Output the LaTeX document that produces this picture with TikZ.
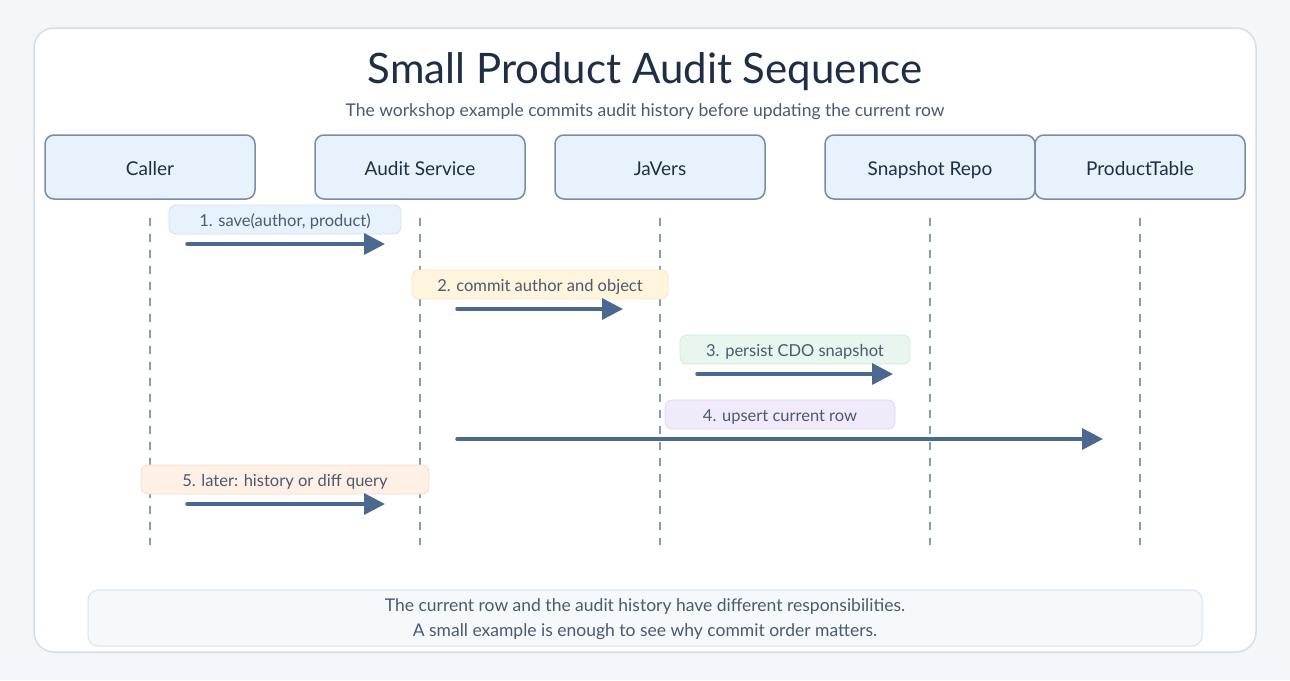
\documentclass[tikz,border=0pt]{standalone}
\usepackage{fontspec}
\setmainfont{Lato}
\usetikzlibrary{arrows.meta}
\definecolor{pagebg}{HTML}{F4F7FA}
\definecolor{cardline}{HTML}{D5DEE8}
\definecolor{titlecol}{HTML}{1E2F45}
\definecolor{subcol}{HTML}{4A5A70}
\definecolor{headfill}{HTML}{E8F2FC}
\definecolor{headline}{HTML}{7A8BA3}
\definecolor{lifecol}{HTML}{8A9BB0}
\definecolor{arrowcol}{HTML}{4A6890}
\definecolor{lblue}{HTML}{E8F2FC}
\definecolor{lbluel}{HTML}{D2E2F2}
\definecolor{lyellow}{HTML}{FFF4DC}
\definecolor{lyellowl}{HTML}{F5E6C6}
\definecolor{lgreen}{HTML}{E8F6EE}
\definecolor{lgreenl}{HTML}{D3EADC}
\definecolor{lpurple}{HTML}{F1EAFB}
\definecolor{lpurplel}{HTML}{E0D6F0}
\definecolor{lpeach}{HTML}{FFF0E6}
\definecolor{lpeachl}{HTML}{F2DDD0}
\definecolor{footfill}{HTML}{F5F9FC}
\definecolor{footline}{HTML}{D8E3EE}
\tikzset{
  header/.style={draw=headline, fill=headfill, line width=1.5pt, rounded corners=9pt,
    minimum width=210pt, minimum height=64pt, inner sep=0pt, text=titlecol,
    text height=20pt, text depth=4pt, font=\fontsize{19}{22}\selectfont},
  msglabel/.style={rounded corners=7pt, line width=0.8pt, minimum height=29pt, inner sep=0pt,
    text height=18pt, text depth=3.5pt, text=subcol, font=\fontsize{16.5}{19}\selectfont},
  lifeline/.style={draw=lifecol, line width=1.5pt, dash pattern=on 8pt off 8pt},
  msgarrow/.style={draw=arrowcol, line width=3.5pt, line cap=round,
    -{Triangle[length=21pt,width=21pt]}}
}
\begin{document}
\begin{tikzpicture}[x=1pt,y=-1pt]
\useasboundingbox (0,0) rectangle (1290,680);
\fill[pagebg] (0,0) rectangle (1290,680);
\draw[cardline, fill=white, line width=1.5pt, rounded corners=20pt] (34,28) rectangle (1256,652);
\node[text=titlecol, font=\fontsize{42}{48}\selectfont] (title) at (645,72) {Small Product Audit Sequence};
\node[text=subcol, font=\fontsize{17.5}{21}\selectfont] (subtitle) at (645,112) {The workshop example commits audit history before updating the current row};
% headers
\node[header] (caller) at (150,167) {Caller};
\node[header] (audit) at (420,167) {Audit Service};
\node[header] (javers) at (660,167) {JaVers};
\node[header] (repo) at (930,167) {Snapshot Repo};
\node[header] (table) at (1140,167) {ProductTable};
% lifelines
\foreach \n/\x in {callerL/150, auditL/420, javersL/660, repoL/930, tableL/1140}{
  \coordinate (\n top) at (\x,218);
  \coordinate (\n bot) at (\x,545);
  \draw[lifeline] (\n top) -- (\n bot);
}
% messages
\node[msglabel, fill=lblue, draw=lbluel, minimum width=232pt] (m1) at (285,219.5) {1. save(author, product)};
\coordinate (a1s) at (187,244); \coordinate (a1e) at (385,244);
\draw[msgarrow] (a1s) -- (a1e);
\node[msglabel, fill=lyellow, draw=lyellowl, minimum width=256pt] (m2) at (540,284.5) {2. commit author and object};
\coordinate (a2s) at (457,309); \coordinate (a2e) at (623,309);
\draw[msgarrow] (a2s) -- (a2e);
\node[msglabel, fill=lgreen, draw=lgreenl, minimum width=230pt] (m3) at (795,349.5) {3. persist CDO snapshot};
\coordinate (a3s) at (697,374); \coordinate (a3e) at (893,374);
\draw[msgarrow] (a3s) -- (a3e);
\node[msglabel, fill=lpurple, draw=lpurplel, minimum width=230pt] (m4) at (780,414.5) {4. upsert current row};
\coordinate (a4s) at (457,439); \coordinate (a4e) at (1103,439);
\draw[msgarrow] (a4s) -- (a4e);
\node[msglabel, fill=lpeach, draw=lpeachl, minimum width=288pt] (m5) at (285,479.5) {5. later: history or diff query};
\coordinate (a5s) at (187,504); \coordinate (a5e) at (385,504);
\draw[msgarrow] (a5s) -- (a5e);
% footer
\node[draw=footline, fill=footfill, line width=1pt, rounded corners=10pt, minimum width=1114pt, minimum height=56pt,
  text=subcol, font=\fontsize{17.5}{25}\selectfont, align=center] (foot) at (645,618)
  {\rule{0pt}{16pt}The current row and the audit history have different responsibilities.\\A small example is enough to see why commit order matters.};
\end{tikzpicture}
\end{document}
